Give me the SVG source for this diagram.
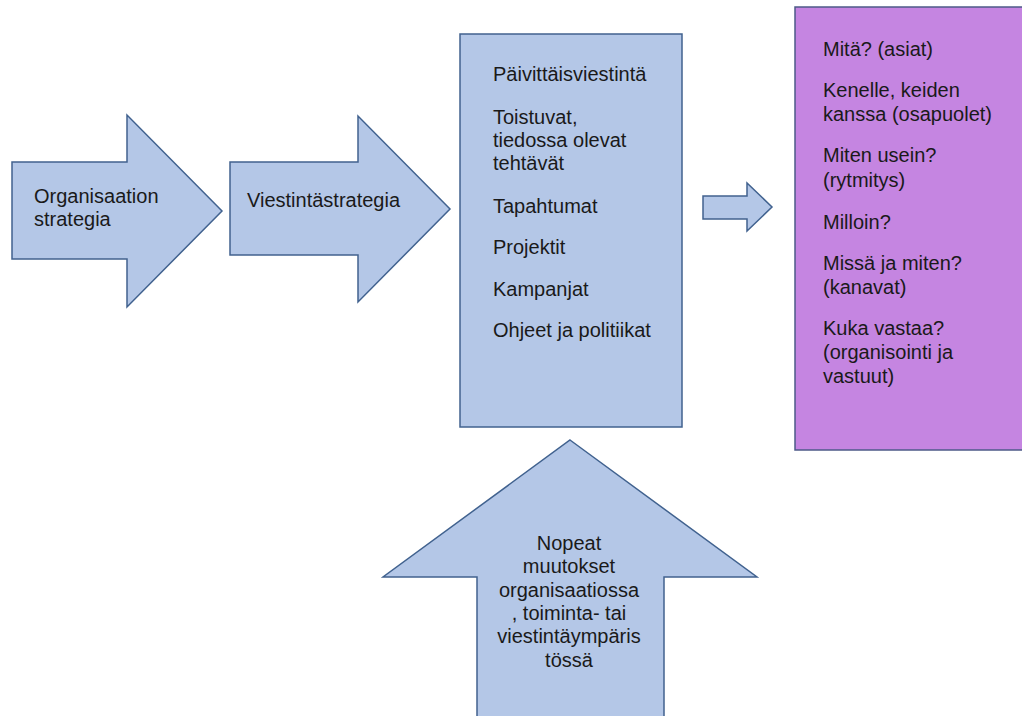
<svg xmlns="http://www.w3.org/2000/svg" width="1022" height="716" viewBox="0 0 1022 716">
<style>
.shape{fill:#b4c7e7;stroke:#41628f;stroke-width:1.5;stroke-linejoin:miter}
.purple{fill:#c585e1;stroke:#4d5a88;stroke-width:1.5}
text{font-family:"Liberation Sans",Arial,sans-serif;font-size:20px;fill:#1a1a1a}
.c{text-anchor:middle}
</style>
<rect width="1022" height="716" fill="#ffffff"/>
<g id="node-organisaation-strategia">
<polygon class="shape" points="12,162 127,162 127,115 222,211 127,307 127,259 12,259"/>
<text x="34" y="203">Organisaation</text>
<text x="34" y="226">strategia</text>
</g>
<g id="node-viestintastrategia">
<polygon class="shape" points="230,162 358,162 358,116 450,209 358,302 358,255 230,255"/>
<text x="247" y="207">Viestintästrategia</text>
</g>
<g id="node-tehtavat">
<rect class="shape" x="460" y="34" width="222" height="393"/>
<text x="493" y="81">Päivittäisviestintä</text>
<text x="493" y="124">Toistuvat,</text>
<text x="493" y="147">tiedossa olevat</text>
<text x="493" y="170">tehtävät</text>
<text x="493" y="213">Tapahtumat</text>
<text x="493" y="254">Projektit</text>
<text x="493" y="296">Kampanjat</text>
<text x="493" y="337">Ohjeet ja politiikat</text>
</g>
<g id="connectors">
<polygon class="shape" points="703,196 747,196 747,183 772,207 747,231 747,219 703,219"/>
</g>
<g id="node-kysymykset">
<rect class="purple" x="795" y="7" width="240" height="443"/>
<text x="823" y="56">Mitä? (asiat)</text>
<text x="823" y="97">Kenelle, keiden</text>
<text x="823" y="121">kanssa (osapuolet)</text>
<text x="823" y="162">Miten usein?</text>
<text x="823" y="187">(rytmitys)</text>
<text x="823" y="229">Milloin?</text>
<text x="823" y="270">Missä ja miten?</text>
<text x="823" y="294">(kanavat)</text>
<text x="823" y="335">Kuka vastaa?</text>
<text x="823" y="359">(organisointi ja</text>
<text x="823" y="383">vastuut)</text>
</g>
<g id="node-nopeat-muutokset">
<polygon class="shape" points="570,440 757,577 664,577 664,722 477,722 477,577 383,577"/>
<text class="c" x="569" y="550">Nopeat</text>
<text class="c" x="569" y="573">muutokset</text>
<text class="c" x="569" y="597">organisaatiossa</text>
<text class="c" x="569" y="620">, toiminta- tai</text>
<text class="c" x="569" y="643">viestintäympäris</text>
<text class="c" x="569" y="667">tössä</text>
</g>
</svg>
